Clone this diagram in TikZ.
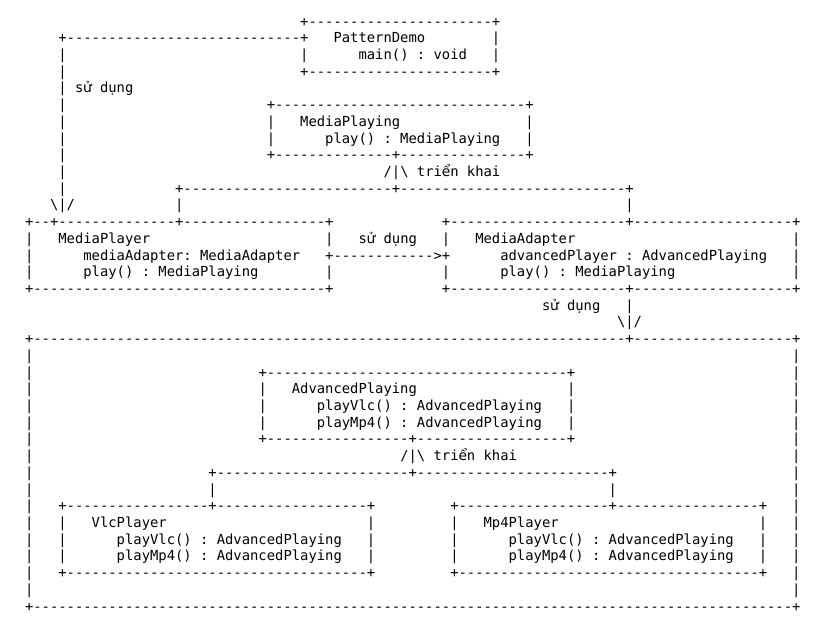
\documentclass[tikz,border=0pt]{standalone}
\usepackage{fontspec}
\setmonofont{DejaVu Sans Mono}
\newfontfamily\vnfont{DejaVu Sans}
\newcommand\spc[1]{\kern#1\fontcharwd\font`M\relax}
\newcommand\vn[1]{\hbox to\fontcharwd\font`M{\hss\vnfont#1\hss}}
\ExplSyntaxOn
\NewDocumentCommand\dsh{m}{\prg_replicate:nn{#1}{-}}
\ExplSyntaxOff
\tikzset{asc/.style={anchor=base west, inner sep=0pt,
  font=\ttfamily\fontsize{13.85pt}{16.7pt}\selectfont\frenchspacing}}
\begin{document}
\begin{tikzpicture}[x=8.34pt, y=-16.714pt]
    \path[use as bounding box, fill=white] (-2.977,-0.556) rectangle (95.944,37.436);
    % PatternDemo
    \node[asc] (row1) at (0,1) {\spc{33}+\dsh{22}+};
    \node[asc] (row2) at (0,2) {\spc{4}+\dsh{28}+\spc{3}PatternDemo\spc{8}|};
    \node[asc] (row3) at (0,3) {\spc{4}|\spc{28}|\spc{6}main() : void\spc{3}|};
    \node[asc] (row4) at (0,4) {\spc{4}|\spc{28}+\dsh{22}+};
    \node[asc] (row5) at (0,5) {\spc{4}|\spc{1}s\vn{ử} dụng};
    % MediaPlaying
    \node[asc] (row6) at (0,6) {\spc{4}|\spc{24}+\dsh{30}+};
    \node[asc] (row7) at (0,7) {\spc{4}|\spc{24}|\spc{3}MediaPlaying\spc{15}|};
    \node[asc] (row8) at (0,8) {\spc{4}|\spc{24}|\spc{6}play() : MediaPlaying\spc{3}|};
    \node[asc] (row9) at (0,9) {\spc{4}|\spc{24}+\dsh{14}+\dsh{15}+};
    \node[asc] (row10) at (0,10) {\spc{4}|\spc{38}/|\textbackslash{} tri\vn{ể}n khai};
    \node[asc] (row11) at (0,11) {\spc{4}|\spc{13}+\dsh{25}+\dsh{27}+};
    \node[asc] (row12) at (0,12) {\spc{3}\textbackslash|/\spc{12}|\spc{53}|};
    % MediaPlayer, MediaAdapter
    \node[asc] (row13) at (0,13) {+\dsh{2}+\dsh{14}+\dsh{17}+\spc{13}+\dsh{21}+\dsh{19}+};
    \node[asc] (row14) at (0,14) {|\spc{3}MediaPlayer\spc{21}|\spc{3}s\vn{ử} dụng\spc{3}|\spc{3}MediaAdapter\spc{26}|};
    \node[asc] (row15) at (0,15) {|\spc{6}mediaAdapter: MediaAdapter\spc{3}+\dsh{12}>+\spc{6}advancedPlayer : AdvancedPlaying\spc{3}|};
    \node[asc] (row16) at (0,16) {|\spc{6}play() : MediaPlaying\spc{8}|\spc{13}|\spc{6}play() : MediaPlaying\spc{14}|};
    \node[asc] (row17) at (0,17) {+\dsh{35}+\spc{13}+\dsh{21}+\dsh{19}+};
    \node[asc] (row18) at (0,18) {\spc{62}s\vn{ử} dụng\spc{3}|};
    \node[asc] (row19) at (0,19) {\spc{71}\textbackslash|/};
    % AdvancedPlaying
    \node[asc] (row20) at (0,20) {+\dsh{71}+\dsh{19}+};
    \node[asc] (row21) at (0,21) {|\spc{91}|};
    \node[asc] (row22) at (0,22) {|\spc{27}+\dsh{36}+\spc{26}|};
    \node[asc] (row23) at (0,23) {|\spc{27}|\spc{3}AdvancedPlaying\spc{18}|\spc{26}|};
    \node[asc] (row24) at (0,24) {|\spc{27}|\spc{6}playVlc() : AdvancedPlaying\spc{3}|\spc{26}|};
    \node[asc] (row25) at (0,25) {|\spc{27}|\spc{6}playMp4() : AdvancedPlaying\spc{3}|\spc{26}|};
    \node[asc] (row26) at (0,26) {|\spc{27}+\dsh{17}+\dsh{18}+\spc{26}|};
    \node[asc] (row27) at (0,27) {|\spc{44}/|\textbackslash{} tri\vn{ể}n khai\spc{33}|};
    \node[asc] (row28) at (0,28) {|\spc{21}+\dsh{23}+\dsh{23}+\spc{21}|};
    \node[asc] (row29) at (0,29) {|\spc{21}|\spc{47}|\spc{21}|};
    % VlcPlayer, Mp4Player
    \node[asc] (row30) at (0,30) {|\spc{3}+\dsh{17}+\dsh{18}+\spc{9}+\dsh{18}+\dsh{17}+\spc{3}|};
    \node[asc] (row31) at (0,31) {|\spc{3}|\spc{3}VlcPlayer\spc{24}|\spc{9}|\spc{3}Mp4Player\spc{24}|\spc{3}|};
    \node[asc] (row32) at (0,32) {|\spc{3}|\spc{6}playVlc() : AdvancedPlaying\spc{3}|\spc{9}|\spc{6}playVlc() : AdvancedPlaying\spc{3}|\spc{3}|};
    \node[asc] (row33) at (0,33) {|\spc{3}|\spc{6}playMp4() : AdvancedPlaying\spc{3}|\spc{9}|\spc{6}playMp4() : AdvancedPlaying\spc{3}|\spc{3}|};
    \node[asc] (row34) at (0,34) {|\spc{3}+\dsh{36}+\spc{9}+\dsh{36}+\spc{3}|};
    \node[asc] (row35) at (0,35) {|\spc{91}|};
    \node[asc] (row36) at (0,36) {+\dsh{91}+};
\end{tikzpicture}
\end{document}
